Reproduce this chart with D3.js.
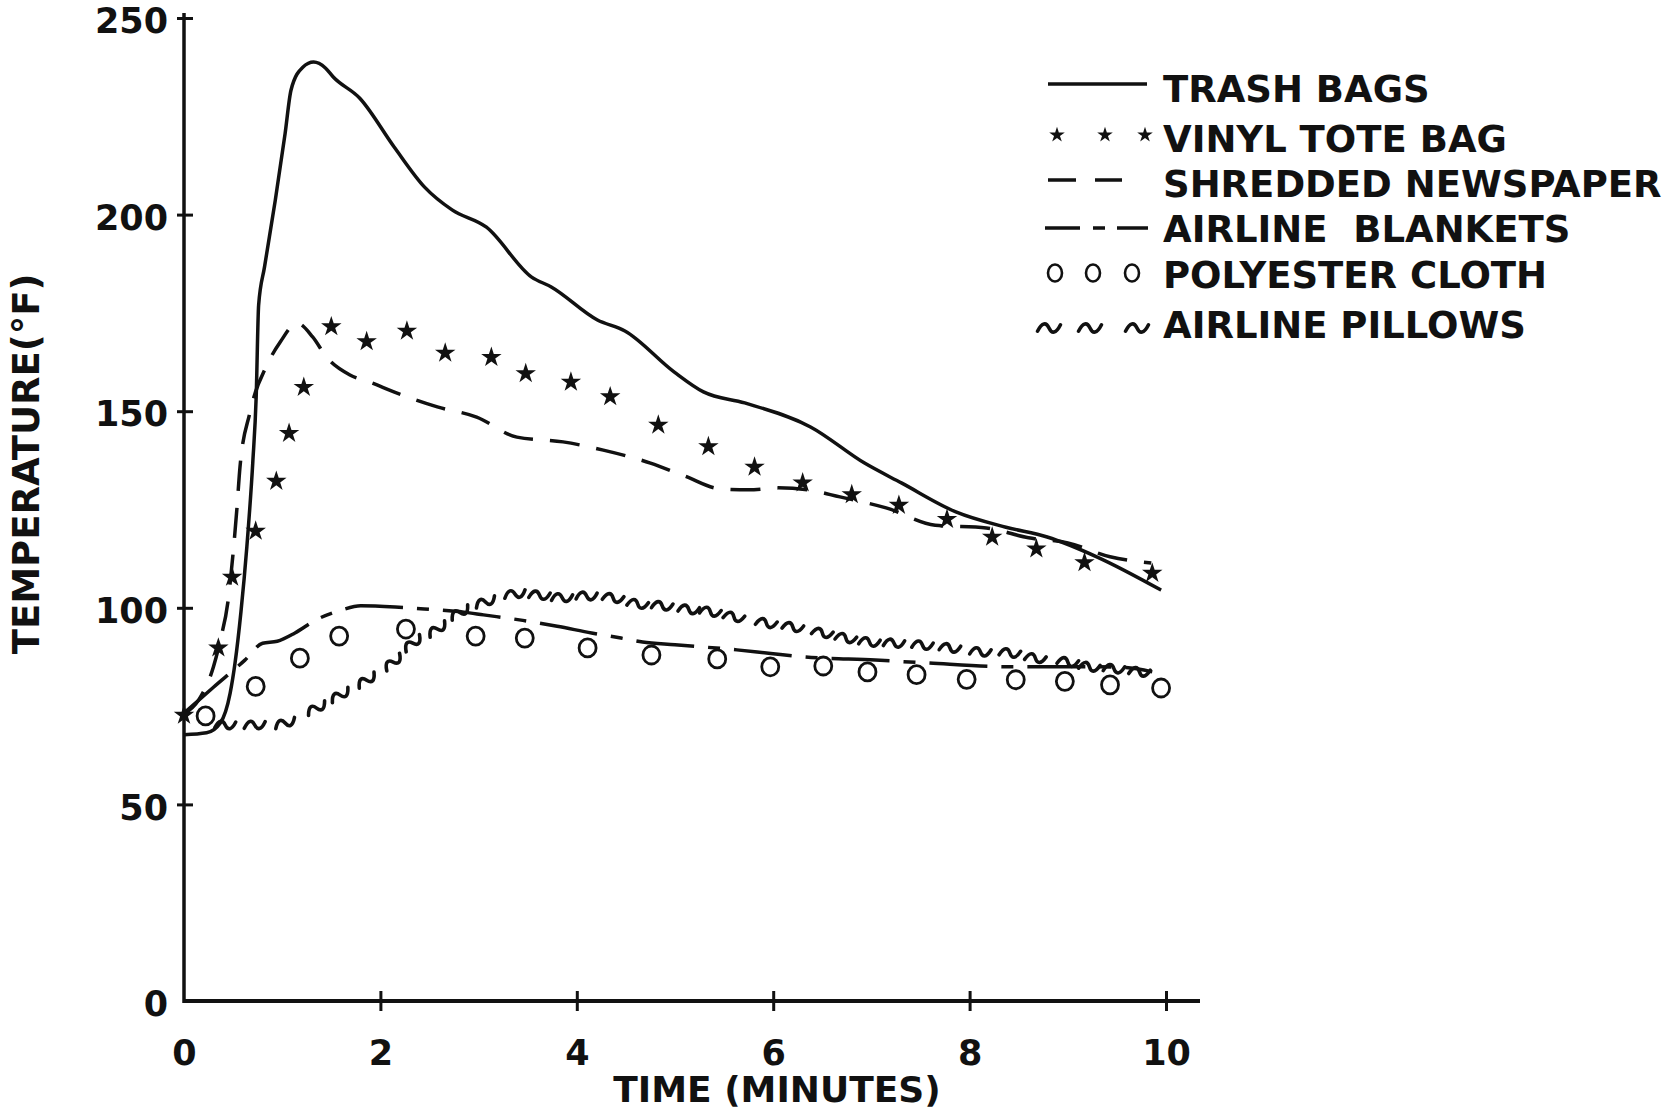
<!DOCTYPE html>
<html>
<head>
<meta charset="utf-8">
<script src="https://cdn.jsdelivr.net/npm/d3@7"></script>
<style>
    body { margin: 0; background: #fff; }
    text { font-family: "DejaVu Sans", sans-serif; font-weight: bold; fill: #111; }
</style>
</head>
<body>
<div id="chart"></div>
<script>
// ========== DATA ==========
const xTicks = [0, 2, 4, 6, 8, 10];
const yTicks = [0, 50, 100, 150, 200, 250];

const trashTime = [0, 0.23, 0.37, 0.47, 0.52, 0.58, 0.64, 0.70, 0.735, 0.76, 0.82, 0.93, 1.03, 1.09, 1.21, 1.32, 1.44, 1.52, 1.79, 2.14, 2.45, 2.73, 3.08, 3.54, 3.74, 4.21, 4.49, 4.99, 5.29, 5.71, 6.38, 6.93, 7.31, 7.86, 8.37, 8.79, 9.30, 9.95];
const trashTemp = [67.7, 68.2, 70.7, 78.3, 86, 99, 115.5, 136.8, 153.6, 177, 186.7, 203.7, 220.7, 231.7, 237.5, 238.8, 237.3, 235, 229.6, 217.2, 207, 201.2, 196.8, 184.1, 181.6, 173.2, 170.4, 160, 154.9, 152.1, 146, 136.8, 131.7, 124.4, 120.5, 118, 112.9, 104.5];

const vinylTime = [0, 0.35, 0.49, 0.73, 0.94, 1.07, 1.22, 1.50, 1.86, 2.27, 2.66, 3.13, 3.48, 3.94, 4.34, 4.83, 5.34, 5.81, 6.30, 6.80, 7.28, 7.77, 8.23, 8.68, 9.17, 9.86];
const vinylTemp = [72.7, 89.8, 107.8, 119.5, 132.2, 144.4, 156.1, 171.5, 167.7, 170.4, 164.8, 163.7, 159.6, 157.4, 153.7, 146.5, 141, 135.8, 131.8, 128.8, 126.1, 122.5, 118, 115, 111.5, 108.8];

const paperTime = [0, 0.15, 0.30, 0.37, 0.45, 0.50, 0.54, 0.57, 0.67, 0.86, 0.98, 1.15, 1.31, 1.45, 1.69, 1.89, 2.17, 2.58, 2.98, 3.39, 3.86, 4.27, 4.75, 5.10, 5.45, 5.75, 6.05, 6.35, 6.68, 7.15, 7.65, 8.17, 8.60, 9.00, 9.43, 9.85];
const paperTemp = [73, 76.6, 85, 91.8, 102, 113.9, 125.6, 135.8, 149.5, 162.5, 167.6, 172.4, 168.9, 163.8, 159.2, 157.4, 154.6, 151.1, 148.5, 143.4, 142.2, 140.1, 136.8, 133.5, 130.3, 130, 130.5, 130, 128.2, 125.4, 121, 120.3, 117.8, 116.5, 113, 111.4];

const blanketTime = [0, 0.30, 0.62, 0.80, 0.95, 1.13, 1.35, 1.60, 1.80, 2.15, 2.50, 2.85, 3.05, 3.45, 3.80, 4.15, 4.45, 4.67, 5.00, 5.63, 6.00, 6.32, 7.04, 7.55, 8.43, 9.18, 9.59, 9.86];
const blanketTemp = [73.2, 79.8, 86.7, 91.0, 91.5, 93.6, 97.0, 99.4, 100.5, 100.2, 99.6, 98.9, 98.2, 96.8, 95.3, 93.6, 92.3, 91.3, 90.6, 89.3, 88.3, 87.5, 86.7, 86.0, 85.0, 85.0, 84.8, 83.7];

const clothTime = [0.22, 0.73, 1.18, 1.58, 2.26, 2.97, 3.47, 4.11, 4.76, 5.43, 5.97, 6.51, 6.96, 7.46, 7.97, 8.47, 8.97, 9.43, 9.95];
const clothTemp = [72.5, 80, 87.2, 92.8, 94.6, 92.8, 92.3, 89.8, 88, 87, 85, 85.2, 83.7, 83, 81.8, 81.7, 81.3, 80.4, 79.6];

const pillowTime = [0.42, 0.72, 1.03, 1.35, 1.59, 1.86, 2.13, 2.33, 2.58, 2.81, 3.07, 3.37, 3.62, 3.85, 4.10, 4.37, 4.62, 4.87, 5.14, 5.36, 5.60, 5.93, 6.20, 6.50, 6.74, 6.98, 7.23, 7.52, 7.80, 8.11, 8.41, 8.67, 9.00, 9.22, 9.47, 9.73];
const pillowTemp = [70.2, 70.2, 70.7, 74.5, 77.8, 81.6, 86.2, 91, 94.6, 98.8, 101.5, 103.5, 103.2, 102.6, 103, 102.5, 101, 100.5, 99.6, 99, 97.7, 96.1, 95.1, 93.6, 92.3, 91.3, 91, 90.5, 89.8, 88.8, 88.5, 87.2, 86.2, 85, 84.5, 83.7];

const legendLabels = ["TRASH BAGS", "VINYL TOTE BAG", "SHREDDED NEWSPAPER", "AIRLINE  BLANKETS", "POLYESTER CLOTH", "AIRLINE PILLOWS"];

const zip = (ts, vs) => ts.map((t, i) => ({ t: t, v: vs[i] }));

// ========== SET UP CHART AREA ==========
const width = 1673;
const height = 1112;
const ink = "#111";

const svg = d3.select("#chart")
    .append("svg")
    .attr("width", width)
    .attr("height", height);

const xScale = d3.scaleLinear().domain([0, 10]).range([184, 1166]);
const yScale = d3.scaleLinear().domain([0, 250]).range([1001, 18]);

const line = d3.line()
    .x(d => xScale(d.t))
    .y(d => yScale(d.v))
    .curve(d3.curveMonotoneX);

// tilde glyph used for the pillow series
const tildePath = (w) => `M${-w / 2},${w * 0.14} C${-w * 0.3},${-w * 0.26} ${-w * 0.12},${-w * 0.26} 0,0 C${w * 0.12},${w * 0.26} ${w * 0.3},${w * 0.26} ${w / 2},${-w * 0.14}`;

// ========== AXES ==========
svg.append("line")
    .attr("x1", xScale(0)).attr("x2", xScale(0))
    .attr("y1", yScale(0) + 2).attr("y2", yScale(250) - 5)
    .attr("stroke", ink).attr("stroke-width", 3.5);

svg.append("line")
    .attr("x1", xScale(0) - 1).attr("x2", xScale(10) + 34)
    .attr("y1", yScale(0)).attr("y2", yScale(0))
    .attr("stroke", ink).attr("stroke-width", 4);

const leftAxis = d3.axisLeft(yScale)
    .tickValues(yTicks)
    .tickFormat(d3.format("d"))
    .tickSizeInner(7)
    .tickSizeOuter(0)
    .tickPadding(9);

const yAxisG = svg.append("g")
    .attr("transform", `translate(${xScale(0)},0)`)
    .call(leftAxis);
yAxisG.select(".domain").remove();
yAxisG.selectAll(".tick line")
    .attr("x1", 9)
    .attr("stroke", ink)
    .attr("stroke-width", 3)
    .filter(d => d === 0).remove();
yAxisG.selectAll(".tick text")
    .attr("dy", "0.42em")
    .style("font-size", "35px");

const bottomAxis = d3.axisBottom(xScale)
    .tickValues(xTicks)
    .tickSizeInner(10)
    .tickSizeOuter(0)
    .tickPadding(29);

const xAxisG = svg.append("g")
    .attr("transform", `translate(0,${yScale(0)})`)
    .call(bottomAxis);
xAxisG.select(".domain").remove();
xAxisG.selectAll(".tick line")
    .attr("y1", -10)
    .attr("stroke", ink)
    .attr("stroke-width", 3)
    .filter(d => d === 0).remove();
xAxisG.selectAll(".tick text")
    .style("font-size", "35px");

svg.append("text")
    .text("TIME (MINUTES)")
    .attr("x", 777)
    .attr("y", 1102)
    .attr("text-anchor", "middle")
    .style("font-size", "36px");

svg.append("text")
    .text("TEMPERATURE(°F)")
    .attr("transform", "translate(39,464) rotate(-90)")
    .attr("text-anchor", "middle")
    .style("font-size", "37px");

// ========== SERIES ==========
const plot = svg.append("g");

// trash bags - solid
plot.append("path")
    .datum(zip(trashTime, trashTemp))
    .attr("d", line)
    .attr("fill", "none")
    .attr("stroke", ink)
    .attr("stroke-width", 3.5)
    .attr("stroke-linejoin", "round");

// shredded newspaper - dashed
plot.append("path")
    .datum(zip(paperTime, paperTemp))
    .attr("d", line)
    .attr("fill", "none")
    .attr("stroke", ink)
    .attr("stroke-width", 3.5)
    .attr("stroke-dasharray", "30,17");

// airline blankets - long/short dash
plot.append("path")
    .datum(zip(blanketTime, blanketTemp))
    .attr("d", line)
    .attr("fill", "none")
    .attr("stroke", ink)
    .attr("stroke-width", 3.5)
    .attr("stroke-dasharray", "58,14,12,14");

// vinyl tote bag - stars
const star = d3.symbol().type(d3.symbolStar);
plot.selectAll(".vinyl")
    .data(zip(vinylTime, vinylTemp))
    .join("path")
    .attr("class", "vinyl")
    .attr("d", star.size(130)())
    .attr("transform", d => `translate(${xScale(d.t)},${yScale(d.v)})`)
    .attr("fill", ink);

// polyester cloth - open circles
plot.selectAll(".cloth")
    .data(zip(clothTime, clothTemp))
    .join("ellipse")
    .attr("class", "cloth")
    .attr("cx", d => xScale(d.t))
    .attr("cy", d => yScale(d.v))
    .attr("rx", 8.5)
    .attr("ry", 9)
    .attr("fill", "none")
    .attr("stroke", ink)
    .attr("stroke-width", 2.8);

// airline pillows - tildes, tilted along the curve
const pillows = zip(pillowTime, pillowTemp);
plot.selectAll(".pillow")
    .data(pillows)
    .join("path")
    .attr("class", "pillow")
    .attr("d", tildePath(21))
    .attr("transform", (d, i) => {
        const a = pillows[Math.max(i - 1, 0)];
        const b = pillows[Math.min(i + 1, pillows.length - 1)];
        const ang = Math.atan2(yScale(b.v) - yScale(a.v), xScale(b.t) - xScale(a.t)) * 180 / Math.PI;
        return `translate(${xScale(d.t)},${yScale(d.v)}) rotate(${ang})`;
    })
    .attr("fill", "none")
    .attr("stroke", ink)
    .attr("stroke-width", 3.6)
    .attr("stroke-linecap", "round");

// ========== LEGEND ==========
const legend = svg.append("g").attr("class", "legend");
const rowBase = [102, 152, 197, 242, 288, 338];
const rowMid = [84, 135, 180, 228, 273, 328];

legend.selectAll("text")
    .data(legendLabels)
    .join("text")
    .attr("x", 1163)
    .attr("y", (d, i) => rowBase[i])
    .style("font-size", "37px")
    .style("white-space", "pre")
    .attr("xml:space", "preserve")
    .text(d => d);

// solid sample
legend.append("line")
    .attr("x1", 1048).attr("x2", 1147)
    .attr("y1", rowMid[0]).attr("y2", rowMid[0])
    .attr("stroke", ink).attr("stroke-width", 3.5);

// star sample
legend.selectAll(".lstar")
    .data([1057, 1105, 1145])
    .join("path")
    .attr("class", "lstar")
    .attr("d", star.size(75)())
    .attr("transform", d => `translate(${d},${rowMid[1]})`)
    .attr("fill", ink);

// dashed sample
legend.append("line")
    .attr("x1", 1048).attr("x2", 1122)
    .attr("y1", rowMid[2]).attr("y2", rowMid[2])
    .attr("stroke", ink).attr("stroke-width", 3.5)
    .attr("stroke-dasharray", "28,19");

// long/short sample
legend.append("line")
    .attr("x1", 1045).attr("x2", 1148)
    .attr("y1", rowMid[3]).attr("y2", rowMid[3])
    .attr("stroke", ink).attr("stroke-width", 3.5)
    .attr("stroke-dasharray", "35,13,12,12");

// circle sample
legend.selectAll(".lcirc")
    .data([1055, 1093, 1132])
    .join("ellipse")
    .attr("class", "lcirc")
    .attr("cx", d => d).attr("cy", rowMid[4])
    .attr("rx", 7).attr("ry", 8.5)
    .attr("fill", "none").attr("stroke", ink).attr("stroke-width", 2.6);

// tilde sample
legend.selectAll(".ltilde")
    .data([1049, 1090, 1137])
    .join("path")
    .attr("class", "ltilde")
    .attr("d", tildePath(23))
    .attr("transform", d => `translate(${d},${rowMid[5]})`)
    .attr("fill", "none").attr("stroke", ink)
    .attr("stroke-width", 3.6).attr("stroke-linecap", "round");

console.log("chart drawn");
</script>
</body>
</html>
